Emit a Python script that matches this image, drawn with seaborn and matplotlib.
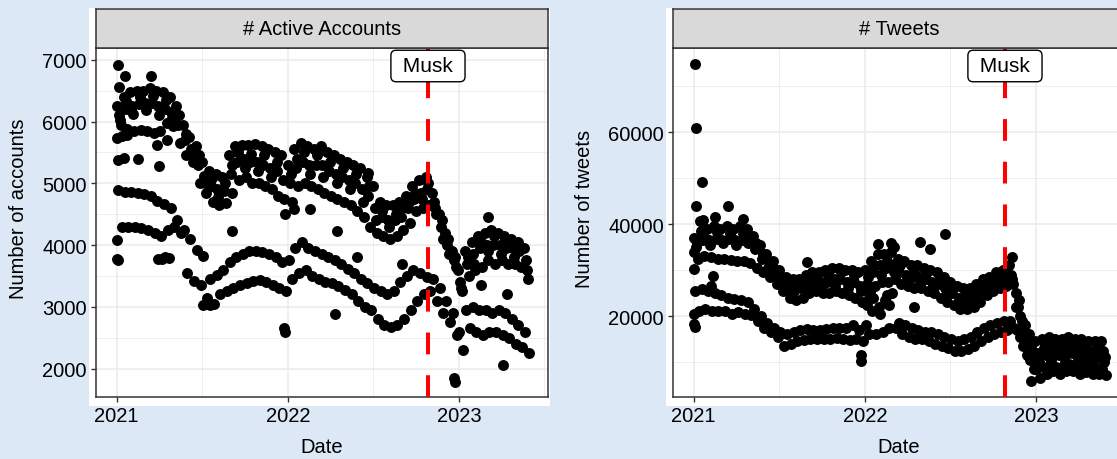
import numpy as np
import pandas as pd
import matplotlib.pyplot as plt
import matplotlib.transforms as mtransforms
from matplotlib.patches import Rectangle
import seaborn as sns

start = pd.Timestamp('2021-01-01')
musk = pd.Timestamp('2022-10-27')

# readings every two weeks, days since 2021-01-01
days = list(range(0, 869, 14))
# small day shift of each row inside the fortnight
offsets = [1, 5, 9, 3, 11, 7]

# --- active accounts: weekday rows + two weekend rows ---
acc_hi = [6250, 6400, 6480, 6500, 6500, 6550, 6500, 6480, 6400, 6250, 5950, 5750, 5600, 5350,
          5200, 5150, 5100, 5450, 5600, 5620, 5620, 5640, 5600, 5550, 5500, 5450, 5300, 5550,
          5650, 5600, 5550, 5600, 5500, 5450, 5400, 5350, 5300, 5250, 5100, 4950, 4700, 4650,
          4650, 4700, 4800, 4950, 5050, 5100, 4850, 4500, 4200, 3900, 3600, 3900, 4050, 4150,
          4200, 4250, 4200, 4150, 4100, 4050, 3950]
acc_mid = [6100, 6200, 6250, 6280, 6300, 6300, 6250, 6200, 6150, 5950, 5700, 5550, 5300, 5120,
           4950, 4900, 4880, 5150, 5350, 5400, 5350, 5350, 5300, 5250, 5200, 5050, 5000, 5250,
           5350, 5300, 5300, 5300, 5200, 5150, 5100, 5050, 5000, 4900, 4800, 4600, 4450, 4400,
           4400, 4450, 4600, 4750, 4850, 4900, 4700, 4300, 4000, 3750, 3400, 3700, 3850, 3950,
           4000, 4000, 4000, 3950, 3950, 3900, 3750]
acc_lo = [5950, 5880, 5850, 5870, 5840, 5820, 5850, 5980, 5930, 5650, 5450, 5350, 5000, 4850,
          4700, 4650, 4680, 4850, 5050, 5100, 5000, 5000, 4950, 4900, 4800, 4500, 4700, 4950,
          5000, 4950, 4900, 4850, 4800, 4750, 4700, 4650, 4550, 4450, 4300, 4200, 4150, 4100,
          4150, 4250, 4350, 4550, 4600, 4650, 4500, 4100, 3850, 3650, 3250, 3500, 3600, 3650,
          3750, 3700, 3750, 3700, 3700, 3650, 3450]
acc_sat = [4890, 4860, 4860, 4840, 4830, 4800, 4720, 4660, 4600, 4400, 4250, 4100, 3920, 3820,
           3450, 3520, 3600, 3720, 3800, 3850, 3900, 3900, 3880, 3850, 3800, 3720, 3750, 3950,
           4050, 3950, 3900, 3850, 3800, 3750, 3700, 3620, 3550, 3450, 3380, 3300, 3250, 3200,
           3250, 3400, 3500, 3600, 3550, 3480, 3450, 3300, 3100, 2900, 2600, 2950, 3000, 2950,
           2950, 2900, 2950, 2900, 2800, 2700, 2600]
acc_sun = [4300, 4300, 4300, 4280, 4240, 4200, 4150, 4250, 4300, 4200, 3550, 3420, 3350, 3150,
           3050, 3200, 3250, 3300, 3350, 3380, 3420, 3440, 3400, 3350, 3300, 3250, 3450, 3550,
           3600, 3500, 3450, 3400, 3380, 3330, 3280, 3200, 3100, 3000, 2950, 2800, 2700, 2680,
           2700, 2800, 2950, 3100, 3200, 3250, 3100, 2900, 2750, 2550, 2300, 2650, 2600, 2550,
           2600, 2600, 2550, 2500, 2400, 2350, 2250]
acc_wk = [6020, 6330, 6120, 6400, 6180, 6420, 6100, 6350, 6050, 6100, 5800, 5450, 5450, 5000,
          5080, 4780, 5000, 5300, 5500, 5250, 5480, 5200, 5450, 5100, 5350, 4750, 5150, 5400,
          5500, 5150, 5450, 5100, 5350, 5000, 5250, 4900, 5150, 4700, 4950, 4400, 4550, 4300,
          4500, 4600, 4700, 4850, 4750, 5000, 4600, 4400, 4100, 3800, 3300, 3800, 3700, 4050,
          3900, 4150, 3850, 4050, 3800, 3950, 3600]
acc_odd_days = [3, 4, 18, 74, 2, 16, 45, 91, 1, 12, 22, 86, 107, 0, 1, 2, 88, 96, 104, 112,
                185, 200, 245, 357, 359, 379, 413, 466, 470, 512, 537, 608, 720, 721, 777,
                793, 825, 832]
acc_odd_vals = [6920, 6560, 6740, 6730, 5380, 5410, 5390, 5280, 5730, 5760, 5780, 5620, 5700,
                4080, 3780, 3750, 3780, 3770, 3800, 3790, 3030, 3030, 4220, 2650, 2600, 4580,
                4580, 2880, 4220, 3800, 5160, 3700, 1850, 1780, 3350, 4450, 2060, 3200]

# --- tweets ---
tw_hi = [37000, 38500, 39000, 39500, 39000, 39500, 39000, 39500, 39000, 37500, 35500, 33500,
         32000, 30000, 28500, 28000, 28000, 29000, 29500, 29500, 30000, 30500, 30500, 30000,
         30000, 29500, 30000, 32000, 33500, 33500, 34000, 32500, 32000, 31000, 31000, 30500,
         30000, 29500, 28500, 27500, 26500, 26000, 26000, 27000, 28000, 28500, 29500, 30000,
         31000, 25000, 19000, 16000, 14500, 15000, 15500, 15000, 15000, 15500, 15000, 15000,
         14500, 14500, 14500]
tw_mid = [35000, 36500, 36500, 36800, 36500, 36800, 36500, 36500, 35800, 34500, 32500, 30500,
          29000, 27500, 26000, 25500, 26000, 27000, 27500, 27500, 27500, 28000, 28000, 27500,
          27500, 26500, 27000, 29500, 31000, 30500, 31000, 29500, 29000, 28500, 28500, 28000,
          27500, 27000, 26000, 25000, 24000, 23500, 24000, 25000, 26000, 27000, 28000, 28500,
          29000, 22000, 16500, 13500, 12000, 13000, 13500, 13000, 13000, 13500, 13000, 13000,
          12500, 12500, 12500]
tw_lo = [32500, 33000, 32800, 32500, 32500, 32200, 32000, 32000, 31500, 30500, 29500, 28500,
         27000, 25500, 24000, 23500, 24000, 25000, 25500, 25000, 25000, 25500, 25000, 24500,
         24000, 23000, 24000, 26500, 27500, 27500, 28000, 27000, 26500, 26000, 26000, 25500,
         25000, 24000, 23000, 22500, 21500, 21500, 22000, 23000, 24500, 25500, 26000, 26500,
         27000, 20000, 14500, 11500, 10000, 11500, 12000, 11500, 11500, 12000, 11500, 11500,
         11000, 11000, 11000]
tw_sat = [25500, 25800, 25500, 25000, 24500, 24000, 23800, 23500, 23000, 21500, 20000, 18500,
          17500, 16500, 16000, 16500, 17000, 17200, 17000, 17000, 17200, 17500, 17500, 17500,
          18000, 17000, 18000, 21000, 22000, 23500, 25000, 18500, 18000, 17500, 17000, 16500,
          16500, 16000, 15500, 15000, 14500, 15000, 15500, 16500, 17500, 18000, 18500, 19000,
          19000, 17000, 13500, 10500, 8500, 9000, 9500, 9000, 9000, 9500, 9000, 9500,
          9000, 9000, 8500]
tw_sun = [21000, 21500, 21000, 21200, 21000, 20500, 20800, 20500, 20200, 19000, 17500, 16500,
          15500, 13500, 14000, 14500, 14800, 15000, 15000, 15000, 15000, 15200, 15000, 14800,
          15000, 14500, 16000, 16000, 16500, 17500, 17500, 16000, 15500, 15000, 15000, 14500,
          14000, 13500, 13000, 12500, 12500, 12800, 13500, 14500, 15500, 16000, 16500, 17000,
          17500, 15500, 11500, 8500, 6500, 7500, 8000, 7500, 8000, 8000, 7500, 7800,
          7500, 7500, 7200]
tw_wk = [36000, 37500, 35500, 38200, 35800, 38000, 35500, 38000, 37000, 36000, 33500, 32000,
         30000, 28500, 27000, 26500, 27000, 28000, 28500, 26500, 29000, 26500, 29500, 26000,
         29000, 25500, 28500, 31000, 29000, 32000, 29500, 31000, 27500, 30000, 27000, 29500,
         26000, 28500, 24500, 26500, 22500, 25000, 23000, 26000, 25000, 27500, 27000, 29500,
         28000, 23500, 18000, 12500, 11000, 14000, 10500, 14000, 10000, 14500, 10500, 14000,
         10000, 13500, 10000]
tw_odd_days = [0, 1, 1, 0, 2, 3, 4, 18, 5, 73, 46, 106, 13, 19, 41, 38, 241, 357, 358, 394,
               420, 427, 483, 504, 536, 469, 376, 678, 688, 720, 370, 383, 398, 412, 416]
tw_odd_vals = [33900, 30200, 20400, 18200, 17600, 74900, 60900, 49200, 44000, 44000, 41500,
               41100, 40700, 40900, 28700, 26600, 31700, 11500, 10300, 35700, 36000, 35000,
               36200, 34600, 37900, 21900, 25200, 32800, 21900, 5900, 22500, 24000, 20500,
               24500, 22500]


def build(rows, odd_days, odd_vals):
    parts = []
    for k, vals in enumerate(rows):
        d = start + pd.to_timedelta(np.array(days) + offsets[k], unit='D')
        parts.append(pd.DataFrame({'Date': d, 'n': vals}))
    parts.append(pd.DataFrame({'Date': start + pd.to_timedelta(odd_days, unit='D'),
                               'n': odd_vals}))
    return pd.concat(parts, ignore_index=True)


df_acc = build([acc_hi, acc_mid, acc_lo, acc_sat, acc_sun, acc_wk], acc_odd_days, acc_odd_vals)
df_tw = build([tw_hi, tw_mid, tw_lo, tw_sat, tw_sun, tw_wk], tw_odd_days, tw_odd_vals)

sns.set_theme(style='white')
plt.rcParams['font.family'] = ['Liberation Sans', 'DejaVu Sans']
plt.rcParams['text.color'] = 'black'
plt.rcParams['axes.labelcolor'] = 'black'

W, H = 1117, 460
fig = plt.figure(figsize=(W / 100, H / 100), dpi=100, facecolor='#dce8f5')

year_ticks = [pd.Timestamp('2021-01-01'), pd.Timestamp('2022-01-01'), pd.Timestamp('2023-01-01')]
half_ticks = [pd.Timestamp('2021-07-02'), pd.Timestamp('2022-07-02'), pd.Timestamp('2023-07-02')]
dark = '#333333'


def panel(left, df, title, ylab, ylim, major, minor, ylab_x):
    # white backing behind panel + ticks
    fig.patches.append(Rectangle(((left - 7) / W, 1 - 407 / H), 461 / W, 398 / H,
                                 transform=fig.transFigure, facecolor='white',
                                 edgecolor='none', zorder=-5))
    ax = fig.add_axes([left / W, 1 - 398 / H, 452 / W, 349 / H])
    ax.set_facecolor('white')
    sns.scatterplot(data=df, x='Date', y='n', ax=ax, color='black', s=62,
                    linewidth=0, legend=False, zorder=3)
    ax.set_xlim(start - pd.Timedelta(days=44), start + pd.Timedelta(days=920))
    ax.set_ylim(*ylim)
    ax.set_xticks(year_ticks)
    ax.set_xticklabels(['2021', '2022', '2023'])
    ax.set_xticks(half_ticks, minor=True)
    ax.set_yticks(major)
    ax.set_yticklabels([str(v) for v in major])
    ax.set_yticks(minor, minor=True)
    ax.grid(which='major', color='#ebebeb', lw=1.1)
    ax.grid(which='minor', color='#ebebeb', lw=0.6)
    ax.set_axisbelow(True)
    ax.tick_params(which='major', direction='out', length=3.5, width=1.0, color=dark,
                   labelsize=14.5, labelcolor='black', pad=3, left=True, bottom=True)
    ax.tick_params(which='minor', length=0)
    for sp in ax.spines.values():
        sp.set_color(dark)
        sp.set_linewidth(1.1)
    ax.set_xlabel('Date', fontsize=14.5, color='black')
    ax.set_ylabel(ylab, fontsize=14.5, color='black')
    ax.xaxis.set_label_coords(0.5, (398 - 448) / 349)
    ax.xaxis.label.set_va('center')
    ax.yaxis.set_label_coords((ylab_x - left) / 452, (398 - 209) / 349)
    ax.yaxis.label.set_va('center')

    ax.axvline(musk, color='red', lw=2.9, dashes=(5.4, 5.2), zorder=4)
    trans = mtransforms.blended_transform_factory(ax.transData, ax.transAxes)
    ax.text(musk, (398 - 67) / 349, ' Musk ', transform=trans, ha='center', va='center',
            fontsize=15, color='black', zorder=5,
            bbox=dict(boxstyle='round,pad=0.3,rounding_size=0.25', fc='white',
                      ec='black', lw=1.0))

    strip = fig.add_axes([left / W, 1 - 49 / H, 452 / W, 39 / H])
    strip.set_facecolor('#d9d9d9')
    strip.set_xticks([])
    strip.set_yticks([])
    for sp in strip.spines.values():
        sp.set_color(dark)
        sp.set_linewidth(1.1)
    strip.text(0.5, 0.5, title, ha='center', va='center', fontsize=14.5, color='black',
               transform=strip.transAxes)
    return ax


panel(96, df_acc, '# Active Accounts', 'Number of accounts', (1540, 7190),
      [2000, 3000, 4000, 5000, 6000, 7000], [2500, 3500, 4500, 5500, 6500], 18)
panel(673, df_tw, '# Tweets', 'Number of tweets', (2400, 78300),
      [20000, 40000, 60000], [10000, 30000, 50000, 70000], 585)

fig.savefig('out.png', dpi=100, facecolor=fig.get_facecolor())
